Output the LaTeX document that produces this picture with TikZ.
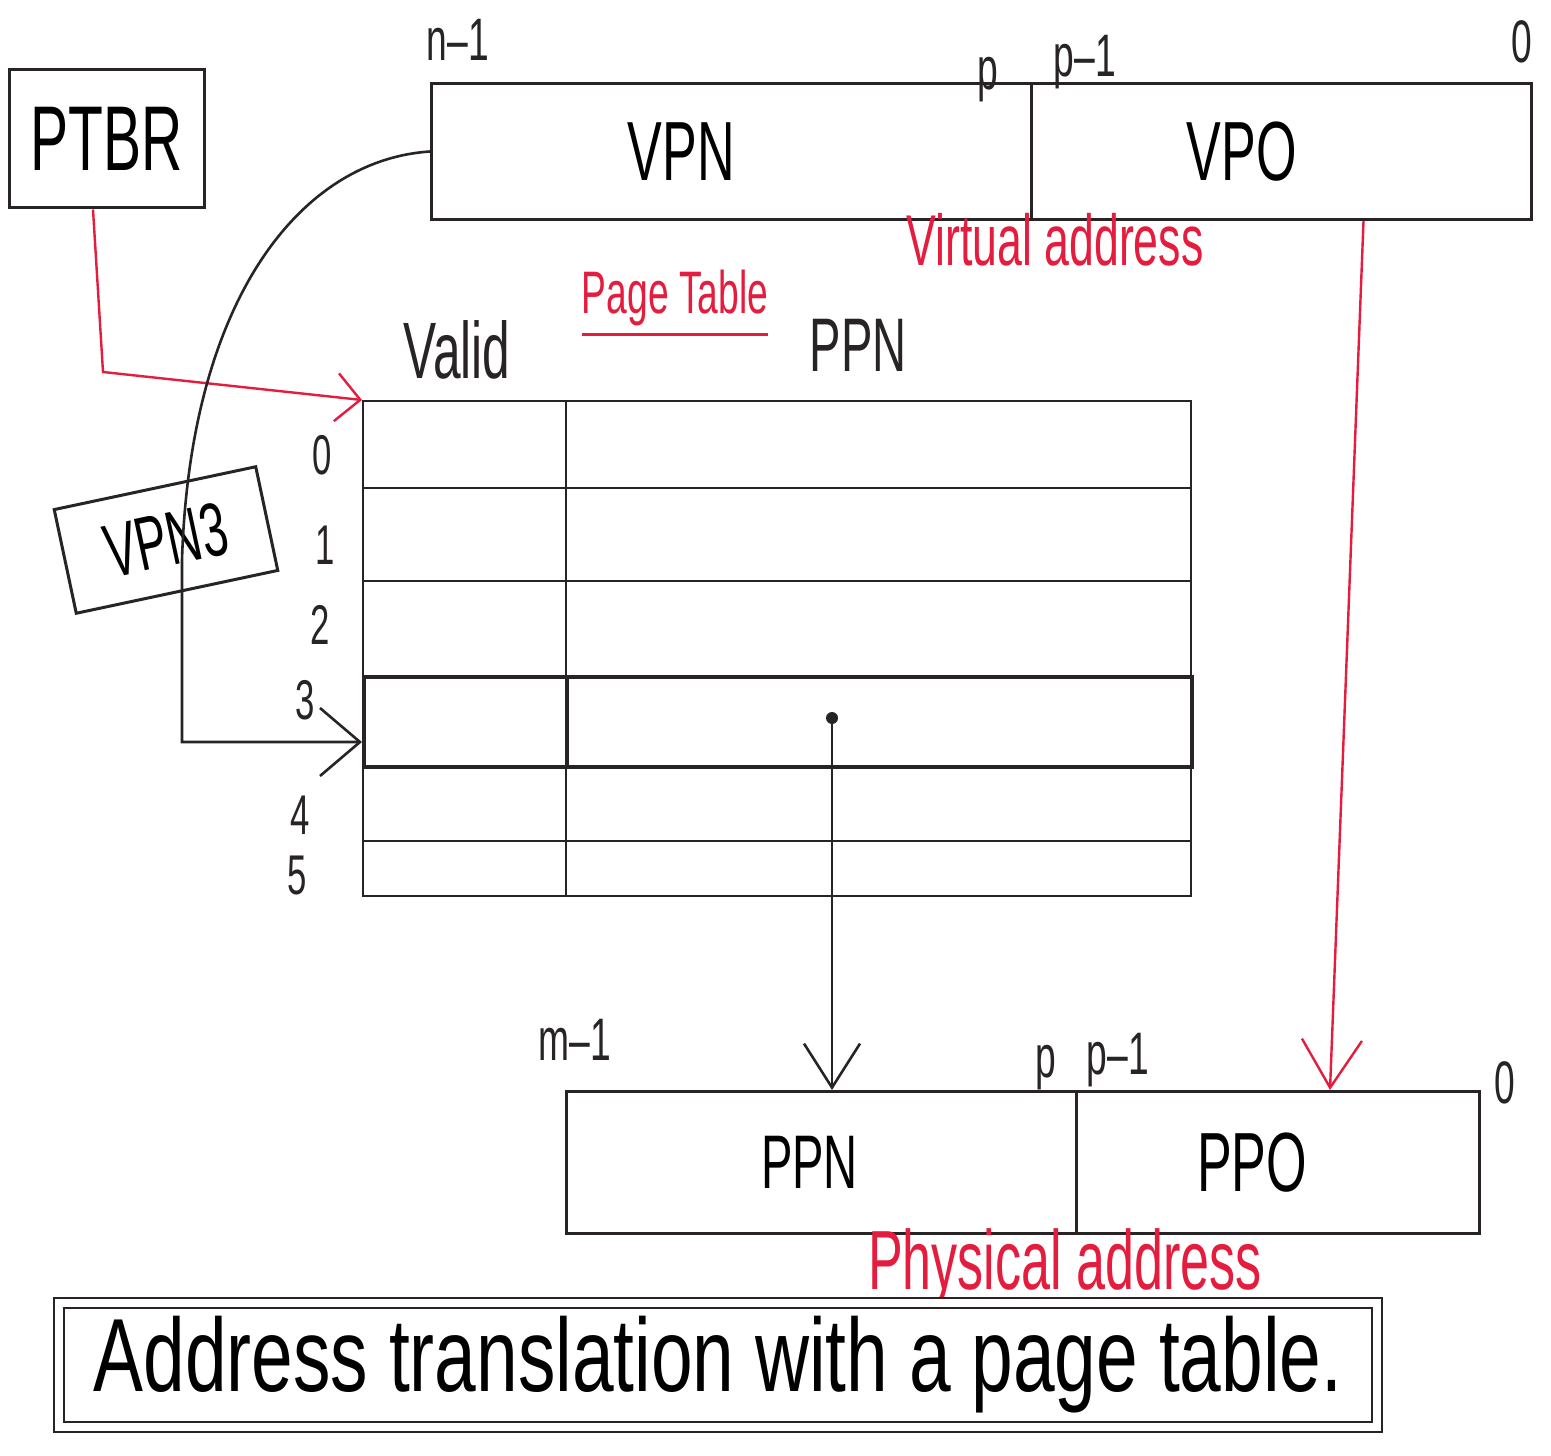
\documentclass[tikz,border=0pt]{standalone}
\usepackage{fontspec}
\setmainfont{Liberation Sans}
\usepackage{graphicx}
\usetikzlibrary{arrows.meta,calc}
\definecolor{inkred}{RGB}{228,28,62}
\definecolor{ink}{RGB}{40,36,38}
\newcommand{\hand}[2]{\scalebox{0.62}[1]{\fontsize{#1}{#1}\selectfont #2}}
\newcommand{\handw}[2]{\scalebox{0.72}[1]{\fontsize{#1}{#1}\selectfont #2}}
\begin{document}
\begin{tikzpicture}[x=0.5pt,y=-0.5pt,
  box/.style={draw=ink,line width=1.5pt,inner sep=0pt},
  cell/.style={draw=ink,line width=1.1pt,anchor=north west,inner sep=0pt,minimum height=#1},
  vcell/.style={cell=#1,minimum width=101.5pt},
  pcell/.style={cell=#1,minimum width=312.5pt},
  lbl/.style={inner sep=0pt,text=ink},
  rlbl/.style={inner sep=0pt,text=inkred},
  conn/.style={ink,line width=1.3pt},
  rconn/.style={inkred,line width=1.2pt}]
\useasboundingbox (0,0) rectangle (1551,1455);
\fill[white] (0,0) rectangle (1551,1455);

% PTBR
\node[box,minimum width=97.5pt,minimum height=69pt] (ptbr) at (107,139) {\hand{46}{PTBR}};

% virtual address
\node[box,minimum width=300pt,minimum height=68pt,anchor=north west] (vpn) at (430,82) {\hand{42}{VPN}\kern50pt};
\node[box,minimum width=250pt,minimum height=68pt,anchor=north west] (vpo) at (1030,82) {\hand{42}{VPO}\kern40pt};
\node[lbl] (n1) at (458,40) {\hand{30}{n\textendash1}};
\node[lbl] (vp) at (988,80) {\hand{30}{p}};
\node[lbl] (vp1) at (1085,62) {\hand{30}{p\textendash1}};
\node[lbl] (vzero) at (1522,42) {\hand{30}{0}};
\node[rlbl] (va) at (1055,240) {\hand{36}{Virtual address}};

% page table
\node[rlbl] (pt) at (675,298) {\hand{30}{Page Table}};
\draw[rconn] ([yshift=-4pt]pt.south west) -- ([yshift=-4pt]pt.south east);
\node[lbl] (hvalid) at (457,350) {\hand{40}{Valid}};
\node[lbl] (hppn) at (858,345) {\hand{38}{PPN}};

\node[vcell=43.5pt] (v0) at (362,400) {};
\node[pcell=43.5pt] (p0) at (565,400) {};
\node[vcell=46.5pt] (v1) at (362,487) {};
\node[pcell=46.5pt] (p1) at (565,487) {};
\node[vcell=47.5pt] (v2) at (362,580) {};
\node[pcell=47.5pt] (p2) at (565,580) {};
\node[vcell=37.5pt] (v4) at (362,765) {};
\node[pcell=37.5pt] (p4) at (565,765) {};
\node[vcell=27.5pt] (v5) at (362,840) {};
\node[pcell=27.5pt] (p5) at (565,840) {};
\node[vcell=45pt,line width=2pt] (v3) at (362,675) {};
\node[pcell=45pt,line width=2pt] (p3) at (565,675) {};

\node[lbl] (r0) at (322,455) {\hand{28}{0}};
\node[lbl] (r1) at (325,545) {\hand{28}{1}};
\node[lbl] (r2) at (320,625) {\hand{28}{2}};
\node[lbl] (r3) at (305,700) {\hand{28}{3}};
\node[lbl] (r4) at (300,815) {\hand{28}{4}};
\node[lbl] (r5) at (297,875) {\hand{28}{5}};

\node[circle,fill=ink,inner sep=0pt,minimum size=6pt] (dot) at (832,718) {};

% VPN 3
\node[box,rotate=12,minimum width=103pt,minimum height=53pt] (vpn3) at (166,540) {\hand{38}{VPN3}};

% physical address
\node[box,minimum width=255pt,minimum height=71pt,anchor=north west] (ppn) at (565,1090) {\hand{38}{PPN}\kern12pt};
\node[box,minimum width=201.5pt,minimum height=71pt,anchor=north west] (ppo) at (1075,1090) {\hand{42}{PPO}\kern26pt};
\node[lbl] (m1) at (575,1040) {\hand{30}{m\textendash1}};
\node[lbl] (pp) at (1046,1068) {\hand{30}{p}};
\node[lbl] (pp1) at (1118,1060) {\hand{30}{p\textendash1}};
\node[lbl] (p0l) at (1505,1083) {\hand{30}{0}};
\node[rlbl] (pa) at (1065,1268) {\hand{42}{Physical address}};

% caption
\node[draw=ink,double,double distance=4pt,line width=0.9pt,minimum width=659pt,minimum height=62pt] (cap) at (718,1365) {\handw{52}{Address translation with a page table.}};

% connectors
\coordinate (bendA) at (103,372);
\draw[rconn,-{Straight Barb[length=12pt,width=24pt]}] ([xshift=-7pt]ptbr.south) -- (bendA) -- (v0.north west);
\draw[conn,-{Straight Barb[length=20pt,width=34pt]}] (vpn.west) .. controls (300,160) and (190,300) .. (182,560) |- ([yshift=-10pt]v3.west);
\draw[conn,-{Straight Barb[length=22pt,width=28pt]}] (dot) -- (dot |- ppn.north);
\draw[rconn,-{Straight Barb[length=24pt,width=30pt]}] ($(vpo.south)+(82,0)$) -- ($(ppo.north)+(52,0)$);
\end{tikzpicture}
\end{document}
